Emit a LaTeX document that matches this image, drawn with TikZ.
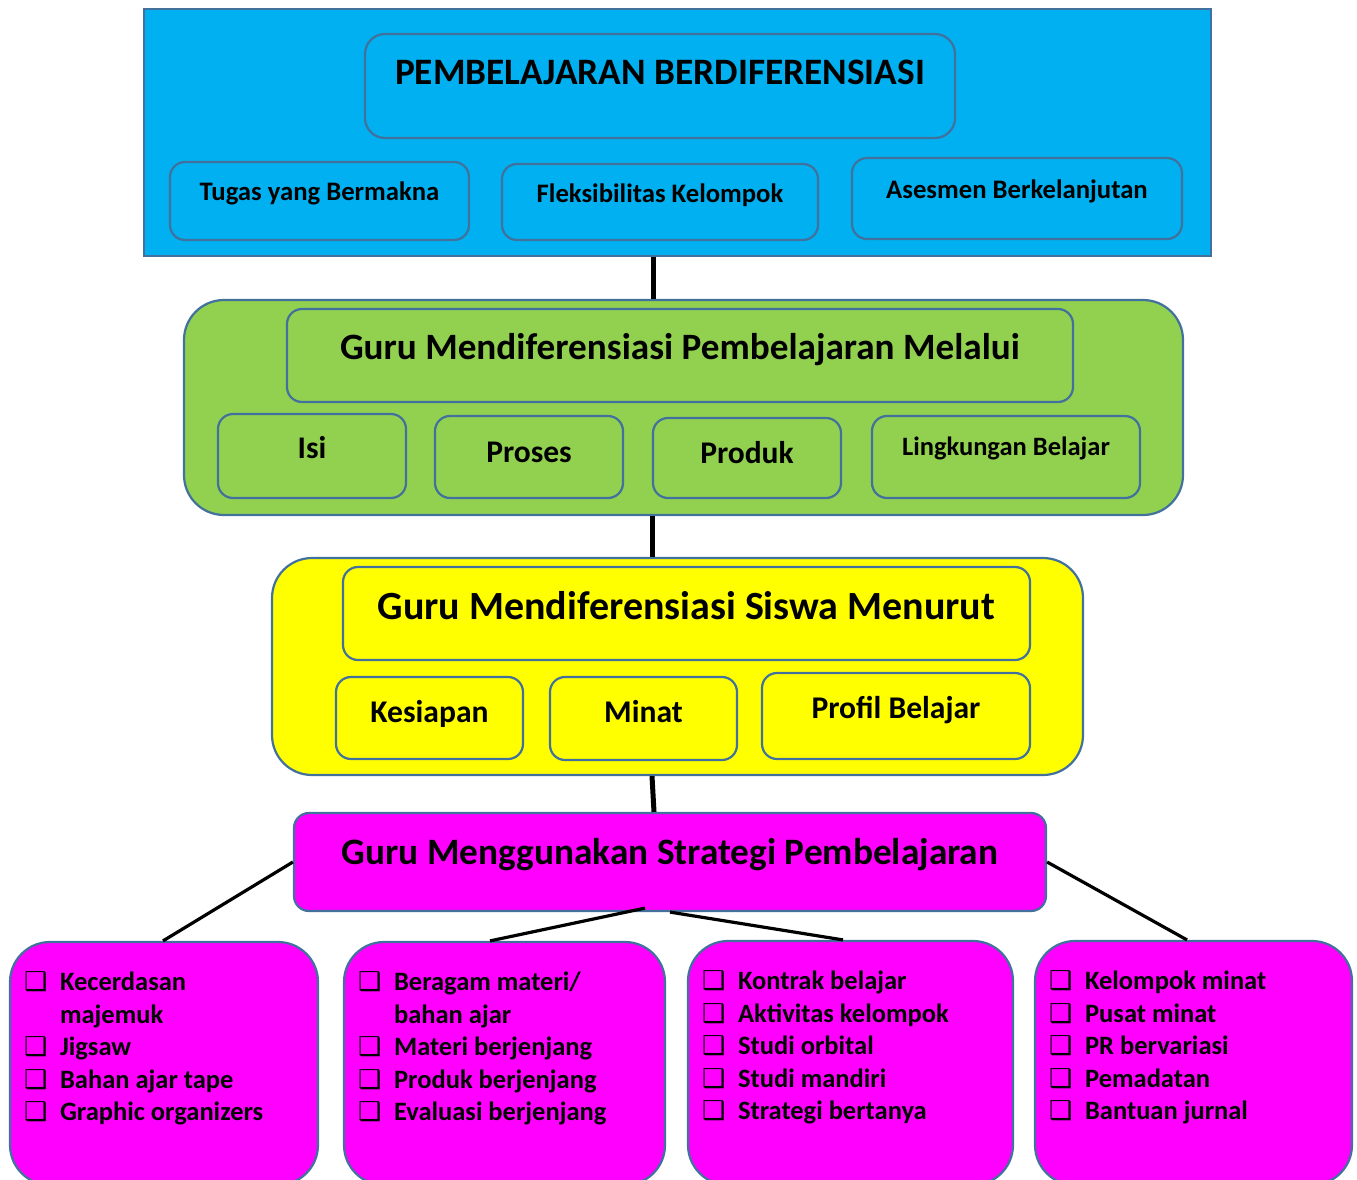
\documentclass[tikz,border=0pt]{standalone}
\usepackage{fontspec}
\setmainfont{Carlito}
\newfontfamily\symfont{DejaVu Sans}
\usetikzlibrary{positioning}
\definecolor{skyfill}{HTML}{00B0F0}
\definecolor{leaffill}{HTML}{92D050}
\definecolor{sunfill}{HTML}{FFFF00}
\definecolor{pinkfill}{HTML}{FF00FF}
\definecolor{edgeblue}{HTML}{41719C}
\newcommand{\fsz}[1]{\fontsize{#1}{#1}\selectfont}
\newcommand{\chk}{\makebox[36pt][l]{\symfont\fontsize{26}{26}\selectfont ❑}}

\begin{document}
\begin{tikzpicture}[
  x=1pt, y=-1pt,
  font=\bfseries,
  box/.style={
    draw=edgeblue,
    line width=2.2pt,
    rounded corners=15pt,
    inner sep=0pt
  },
  bigbox/.style={box, rounded corners=40pt},
  skybox/.style={box, fill=skyfill},
  leafbox/.style={box, fill=leaffill},
  sunbox/.style={box, fill=sunfill},
  pinkbox/.style={box, fill=pinkfill},
  boxtext/.style={anchor=base, inner sep=0pt},
  listtext/.style={anchor=north west, inner sep=0pt, align=left,
    font=\bfseries\fontsize{26.5}{32.5}\selectfont},
  link/.style={line width=5pt, draw=black},
  branch/.style={line width=3.2pt, draw=black}
]
\useasboundingbox (0,0) rectangle (1357,1180);
\clip (0,0) rectangle (1357,1180);

% level 1
\node[skybox, rounded corners=0pt, minimum width=1067pt, minimum height=247pt] (sky) at (677.5,132.5) {};
\node[skybox, rounded corners=20pt, minimum width=590pt, minimum height=104pt] (skytitle) at (660,86) {};
\node[boxtext, font=\bfseries\fsz{37.3}] (skytitletxt) at ([yshift=-52pt]skytitle.north) {PEMBELAJARAN BERDIFERENSIASI};

\node[skybox, minimum width=299pt, minimum height=78pt] (tugas) at (319.5,201) {};
\node[skybox, minimum width=316pt, minimum height=76pt] (fleks) at (660,202) {};
\node[skybox, minimum width=330pt, minimum height=81pt] (asesmen) at (1017,198.5) {};
\node[boxtext, font=\bfseries\fsz{26.7}] (tugastxt) at ([yshift=-40pt]tugas.north) {Tugas yang Bermakna};
\node[boxtext, font=\bfseries\fsz{26.7}] (flekstxt) at ([yshift=-40pt]fleks.north) {Fleksibilitas Kelompok};
\node[boxtext, font=\bfseries\fsz{26.7}] (asesmentxt) at ([yshift=-42pt]asesmen.north) {Asesmen Berkelanjutan};

% level 2
\node[leafbox, bigbox, minimum width=999pt, minimum height=215pt] (leaf) at (683.5,407.5) {};
\node[leafbox, minimum width=786pt, minimum height=93pt] (leaftitle) at (680,355.5) {};
\node[boxtext, font=\bfseries\fsz{37.2}] (leaftitletxt) at ([yshift=-52pt]leaftitle.north) {Guru Mendiferensiasi Pembelajaran Melalui};

\node[leafbox, minimum width=188pt, minimum height=84pt] (isi) at (312,456) {};
\node[leafbox, minimum width=188pt, minimum height=82pt] (proses) at (529,457) {};
\node[leafbox, minimum width=188pt, minimum height=80pt] (produk) at (747,458) {};
\node[leafbox, minimum width=268pt, minimum height=82pt] (lingkungan) at (1006,457) {};
\node[boxtext, font=\bfseries\fsz{31.5}] (isitxt) at ([yshift=-46pt]isi.north) {Isi};
\node[boxtext, font=\bfseries\fsz{31.5}] (prosestxt) at ([yshift=-48pt]proses.north) {Proses};
\node[boxtext, font=\bfseries\fsz{31.5}] (produktxt) at ([yshift=-47pt]produk.north) {Produk};
\node[boxtext, font=\bfseries\fsz{26.5}] (lingkungantxt) at ([yshift=-41pt]lingkungan.north) {Lingkungan Belajar};

% level 3
\node[sunbox, bigbox, minimum width=811pt, minimum height=217pt] (sun) at (677.5,666.5) {};
\node[sunbox, minimum width=687pt, minimum height=93pt] (suntitle) at (686.5,613.5) {};
\node[boxtext, font=\bfseries\fsz{40}] (suntitletxt) at ([yshift=-54pt]suntitle.north) {Guru Mendiferensiasi Siswa Menurut};

\node[sunbox, minimum width=187pt, minimum height=82pt] (kesiapan) at (429.5,718) {};
\node[sunbox, minimum width=187pt, minimum height=83pt] (minat) at (643.5,718.5) {};
\node[sunbox, minimum width=268pt, minimum height=86pt] (profil) at (896,716) {};
\node[boxtext, font=\bfseries\fsz{31.6}] (kesiapantxt) at ([yshift=-47pt]kesiapan.north) {Kesiapan};
\node[boxtext, font=\bfseries\fsz{31.6}] (minattxt) at ([yshift=-47pt]minat.north) {Minat};
\node[boxtext, font=\bfseries\fsz{31.6}] (profiltxt) at ([yshift=-47pt]profil.north) {Profil Belajar};

% level 4
\node[pinkbox, minimum width=752pt, minimum height=98pt] (strategi) at (670,862) {};
\node[boxtext, font=\bfseries\fsz{37.3}] (strategitxt) at ([yshift=-53pt]strategi.north) {Guru Menggunakan Strategi Pembelajaran};

\node[pinkbox, bigbox, minimum width=308pt, minimum height=243pt] (kecer) at (164,1063.5) {};
\node[pinkbox, bigbox, minimum width=321pt, minimum height=243pt] (materi) at (504.5,1063.5) {};
\node[pinkbox, bigbox, minimum width=325pt, minimum height=244pt] (kontrak) at (850.5,1063) {};
\node[pinkbox, bigbox, minimum width=317pt, minimum height=244pt] (minatbox) at (1193.5,1063) {};

\node[listtext] (kecerlist) at ([xshift=15pt,yshift=-27pt]kecer.north west)
  {\chk\strut Kecerdasan\\ \hspace*{36pt}majemuk\\ \chk Jigsaw\\ \chk Bahan ajar tape\\ \chk Graphic organizers};
\node[listtext] (materilist) at ([xshift=15pt,yshift=-27pt]materi.north west)
  {\chk\strut Beragam materi/\\ \hspace*{36pt}bahan ajar\\ \chk Materi berjenjang\\ \chk Produk berjenjang\\ \chk Evaluasi berjenjang};
\node[listtext] (kontraklist) at ([xshift=15pt,yshift=-27pt]kontrak.north west)
  {\chk\strut Kontrak belajar\\ \chk Aktivitas kelompok\\ \chk Studi orbital\\ \chk Studi mandiri\\ \chk Strategi bertanya};
\node[listtext] (minatlist) at ([xshift=15pt,yshift=-27pt]minatbox.north west)
  {\chk\strut Kelompok minat\\ \chk Pusat minat\\ \chk PR bervariasi\\ \chk Pemadatan\\ \chk Bantuan jurnal};

% connectors
\draw[link] ([xshift=-24.5pt]sky.south) -- ([xshift=-30.5pt]leaf.north);
\draw[link] ([xshift=-31.5pt]leaf.south) -- ([xshift=-25.5pt]sun.north);
\draw[link] ([xshift=-25.5pt]sun.south) -- ([xshift=-16pt]strategi.north);
\draw[branch] (strategi.west) -- ([xshift=-1pt]kecer.north);
\draw[branch] ([xshift=-25pt,yshift=4pt]strategi.south) -- ([xshift=-14.5pt]materi.north);
\draw[branch] (strategi.south) -- ([xshift=-7.5pt]kontrak.north);
\draw[branch] (strategi.east) -- ([xshift=-6.5pt]minatbox.north);

\end{tikzpicture}
\end{document}
